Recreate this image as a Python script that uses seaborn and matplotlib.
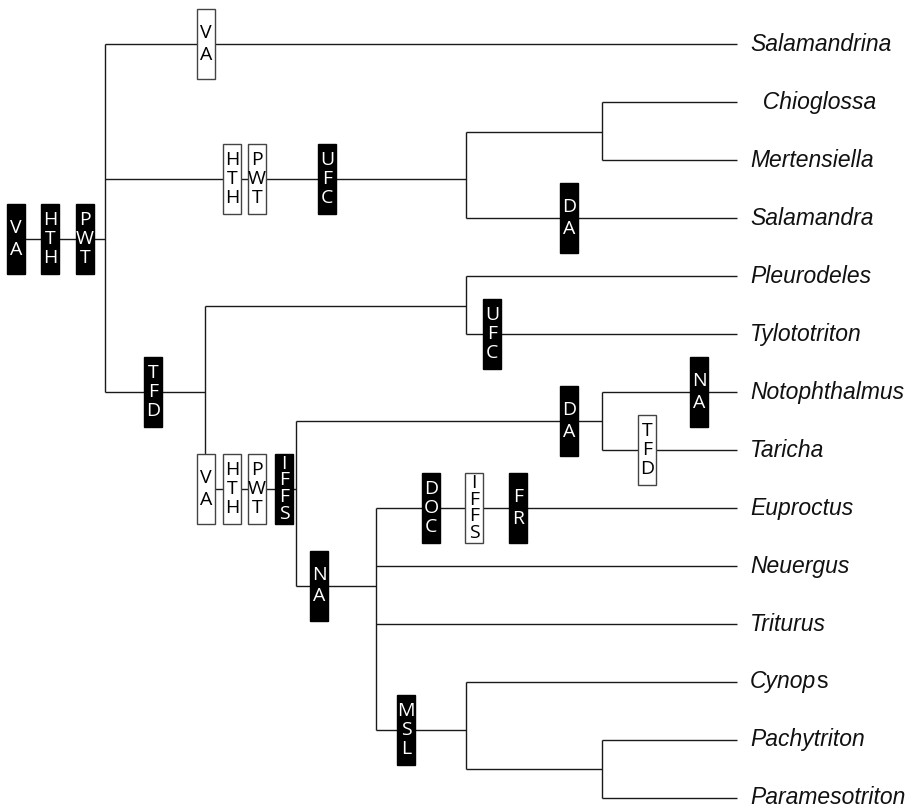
import pandas as pd
import matplotlib.pyplot as plt
import seaborn as sns
from matplotlib.patches import Rectangle

# 分类单元（叶子，自上而下）
taxa = ['Salamandrina', '  Chioglossa', 'Mertensiella', 'Salamandra', 'Pleurodeles', 'Tylototriton',
        'Notophthalmus', 'Taricha', 'Euproctus', 'Neuergus', 'Triturus', 'Cynop', 'Pachytriton',
        'Paramesotriton']
taxon_parent = ['root', 'chio_mert', 'chio_mert', 'salamandrinae', 'pleu_tylo', 'pleu_tylo',
                'noto_tari', 'noto_tari', 'modern', 'modern', 'modern', 'cyn_group', 'pachy_para',
                'pachy_para']

# 内部节点：名称、父节点、深度、行位置
node_names = ['root', 'salamandrinae', 'chio_mert', 'pleurodelinae', 'pleu_tylo', 'newts',
              'noto_tari', 'modern', 'cyn_group', 'pachy_para']
node_parent = [None, 'root', 'salamandrinae', 'root', 'pleurodelinae', 'pleurodelinae',
               'newts', 'newts', 'modern', 'cyn_group']
node_depth = [10.5, 46.6, 60.2, 20.5, 46.6, 29.6, 60.2, 37.6, 46.6, 60.2]
node_row = [3.36, 2.33, 1.52, 6.0, 4.52, 7.67, 6.5, 9.34, 11.83, 12.5]
tip_depth = 73.7
stem_start = 1.6

# 性状变化：所在分支、位置、代码、是否为衍生状态（黑框）
char_branch = ['root', 'root', 'root', 'Salamandrina', 'salamandrinae', 'salamandrinae',
               'salamandrinae', 'Salamandra', 'pleurodelinae', 'newts', 'newts', 'newts', 'newts',
               'Tylototriton', 'noto_tari', 'Notophthalmus', 'Taricha', 'Euproctus', 'Euproctus',
               'Euproctus', 'modern', 'cyn_group']
char_pos = [1.6, 5.0, 8.5, 20.6, 23.2, 25.7, 32.7, 56.9, 15.3, 20.6, 23.2, 25.7, 28.4, 49.2,
            56.9, 69.9, 64.7, 43.1, 47.4, 51.8, 31.9, 40.6]
char_code = ['VA', 'HTH', 'PWT', 'VA', 'HTH', 'PWT', 'UFC', 'DA', 'TFD', 'VA', 'HTH', 'PWT',
             'IFFS', 'UFC', 'DA', 'NA', 'TFD', 'DOC', 'IFFS', 'FR', 'NA', 'MSL']
char_filled = [1, 1, 1, 0, 0, 0, 1, 1, 1, 0, 0, 0, 1, 1, 1, 1, 0, 1, 0, 1, 1, 1]

nodes = pd.DataFrame({'name': node_names, 'parent': node_parent,
                      'depth': node_depth, 'row': node_row})
leaves = pd.DataFrame({'name': [t.strip() for t in taxa], 'label': taxa,
                       'parent': taxon_parent, 'depth': tip_depth,
                       'row': range(len(taxa))})
allnodes = pd.concat([nodes, leaves[['name', 'parent', 'depth', 'row']]], ignore_index=True)
pos = allnodes.set_index('name')

sns.set_theme(style='white')
line_kw = dict(color='#1a1a1a', linewidth=1.0, solid_capstyle='butt', zorder=1)

fig = plt.figure(figsize=(9.2, 8.1), dpi=100)
ax = fig.add_axes([0, 0, 1, 1])
ax.set_xlim(0, 92)
ax.set_ylim(13.207, -0.759)
ax.set_axis_off()

# 根的茎
r = pos.loc['root']
ax.plot([stem_start, r.depth], [r.row, r.row], **line_kw)

# 水平分支
for _, n in allnodes.iterrows():
    if n.parent is None:
        continue
    p = pos.loc[n.parent]
    ax.plot([p.depth, n.depth], [n.row, n.row], **line_kw)

# 垂直连接线
for _, n in nodes.iterrows():
    kids = allnodes[allnodes.parent == n['name']]
    ax.plot([n.depth, n.depth], [kids.row.min(), kids.row.max()], **line_kw)

# 性状方框
box_w, box_h = 1.85, 1.207
steps = {2: 0.37, 3: 0.33, 4: 0.29}
for b, x, code, filled in zip(char_branch, char_pos, char_code, char_filled):
    y = pos.loc[b].row
    ax.add_patch(Rectangle((x - box_w / 2, y - box_h / 2), box_w, box_h,
                           facecolor='black' if filled else 'white',
                           edgecolor='black' if filled else '#444444',
                           linewidth=1.0, zorder=3))
    st = steps[len(code)]
    y0 = y - st * (len(code) - 1) / 2
    for i, ch in enumerate(code):
        ax.text(x, y0 + i * st, ch, ha='center', va='center', fontsize=14,
                family=['Open Sans', 'DejaVu Sans'], fontweight='normal',
                color='white' if filled else 'black', zorder=4)

# 物种名
for _, lf in leaves.iterrows():
    t = ax.text(75.0, lf.row, lf.label, ha='left', va='center', fontsize=16.5,
                style='italic', family=['Liberation Sans', 'DejaVu Sans'], color='#111111')
    if lf.label == 'Cynop':
        ax.annotate('s', xy=(1, 0), xycoords=t, ha='left', va='bottom', fontsize=16.5,
                    family=['Liberation Sans', 'DejaVu Sans'], color='#111111')

plt.savefig('out.png', dpi=100)
